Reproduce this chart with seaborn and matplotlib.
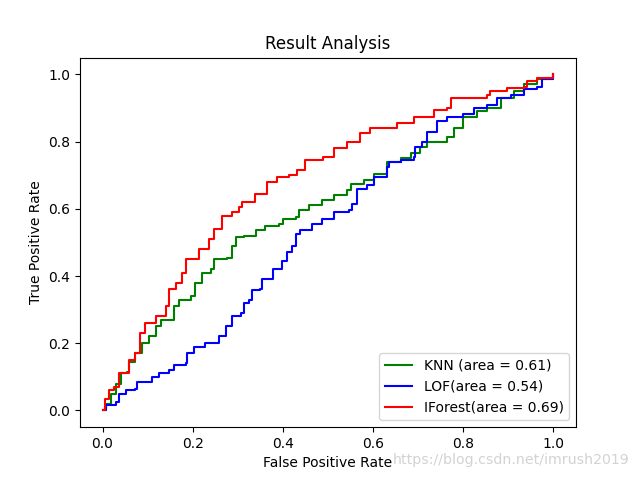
import seaborn as sns
import matplotlib.pyplot as plt
import numpy as np
import pandas as pd

# ROC points
knn_fpr = [0.0, 0.007, 0.018, 0.029, 0.04, 0.055, 0.058, 0.073, 0.088, 0.103, 0.118, 0.129, 0.144,
           0.159, 0.17, 0.196, 0.206, 0.221, 0.24, 0.247, 0.277, 0.288, 0.295, 0.314, 0.34, 0.361,
           0.391, 0.40, 0.428, 0.436, 0.457, 0.487, 0.513, 0.543, 0.55, 0.58, 0.602, 0.631, 0.661,
           0.683, 0.705, 0.72, 0.764, 0.779, 0.80, 0.83, 0.853, 0.883, 0.912, 0.934, 0.964, 1.0]
knn_tpr = [0.0, 0.02, 0.05, 0.08, 0.11, 0.115, 0.145, 0.17, 0.20, 0.22, 0.25, 0.27, 0.27,
           0.31, 0.33, 0.34, 0.38, 0.41, 0.42, 0.45, 0.455, 0.49, 0.515, 0.52, 0.536, 0.55,
           0.555, 0.57, 0.575, 0.595, 0.61, 0.625, 0.64, 0.655, 0.673, 0.685, 0.705, 0.74, 0.75,
           0.765, 0.785, 0.80, 0.815, 0.84, 0.873, 0.89, 0.90, 0.93, 0.95, 0.97, 0.985, 1.0]

lof_fpr = [0.0, 0.007, 0.029, 0.036, 0.051, 0.073, 0.077, 0.103, 0.11, 0.125, 0.147, 0.158, 0.184,
           0.188, 0.203, 0.228, 0.258, 0.273, 0.288, 0.306, 0.313, 0.325, 0.332, 0.35, 0.354, 0.377,
           0.399, 0.41, 0.421, 0.428, 0.439, 0.465, 0.487, 0.513, 0.546, 0.553, 0.565, 0.587, 0.602,
           0.631, 0.635, 0.661, 0.69, 0.694, 0.709, 0.72, 0.742, 0.764, 0.80, 0.823, 0.853, 0.875,
           0.905, 0.934, 0.964, 0.975, 0.99, 1.0]
lof_tpr = [0.0, 0.015, 0.025, 0.05, 0.06, 0.065, 0.085, 0.085, 0.10, 0.11, 0.12, 0.134, 0.14,
           0.17, 0.19, 0.20, 0.22, 0.25, 0.28, 0.29, 0.32, 0.33, 0.357, 0.36, 0.39, 0.42,
           0.446, 0.47, 0.49, 0.526, 0.536, 0.555, 0.57, 0.59, 0.595, 0.615, 0.66, 0.67, 0.695,
           0.724, 0.74, 0.744, 0.754, 0.785, 0.80, 0.83, 0.86, 0.873, 0.883, 0.90, 0.91, 0.93,
           0.94, 0.957, 0.962, 0.985, 0.985, 1.0]

if_fpr = [0.0, 0.005, 0.014, 0.025, 0.036, 0.058, 0.073, 0.084, 0.095, 0.118, 0.14, 0.147, 0.162,
          0.177, 0.184, 0.199, 0.214, 0.236, 0.247, 0.265, 0.288, 0.302, 0.31, 0.332, 0.339, 0.354,
          0.365, 0.387, 0.413, 0.432, 0.45, 0.487, 0.49, 0.513, 0.543, 0.565, 0.572, 0.594, 0.653,
          0.69, 0.735, 0.764, 0.772, 0.853, 0.86, 0.897, 0.934, 0.942, 0.964, 1.0]
if_tpr = [0.0, 0.035, 0.06, 0.07, 0.11, 0.15, 0.17, 0.23, 0.26, 0.28, 0.31, 0.36, 0.38,
          0.41, 0.45, 0.45, 0.48, 0.51, 0.54, 0.58, 0.59, 0.605, 0.62, 0.62, 0.645, 0.645,
          0.68, 0.695, 0.70, 0.714, 0.744, 0.744, 0.754, 0.78, 0.80, 0.80, 0.825, 0.84, 0.855,
          0.873, 0.893, 0.90, 0.93, 0.94, 0.95, 0.96, 0.963, 0.98, 0.99, 1.0]

labels = ["KNN (area = 0.61)", "LOF(area = 0.54)", "IForest(area = 0.69)"]
colors = ["green", "blue", "red"]

fig, ax = plt.subplots(figsize=(6.4, 4.8), dpi=100)

for fpr, tpr, lab, c in zip([knn_fpr, lof_fpr, if_fpr], [knn_tpr, lof_tpr, if_tpr], labels, colors):
    d = pd.DataFrame({"fpr": fpr, "tpr": tpr})
    sns.lineplot(data=d, x="fpr", y="tpr", sort=False, estimator=None, color=c,
                 label=lab, ax=ax, drawstyle="steps-post", linewidth=1.5)

ax.set_title("Result Analysis")
ax.set_xlabel("False Positive Rate")
ax.set_ylabel("True Positive Rate")
ax.legend(loc="lower right")

# csdn watermark in the bottom right corner
fig.text(0.984, 0.027, "https://blog.csdn.net/imrush2019", ha="right", va="bottom",
         fontsize=10.2, color="#d3d3d3")

fig.savefig("out.png", dpi=100)
